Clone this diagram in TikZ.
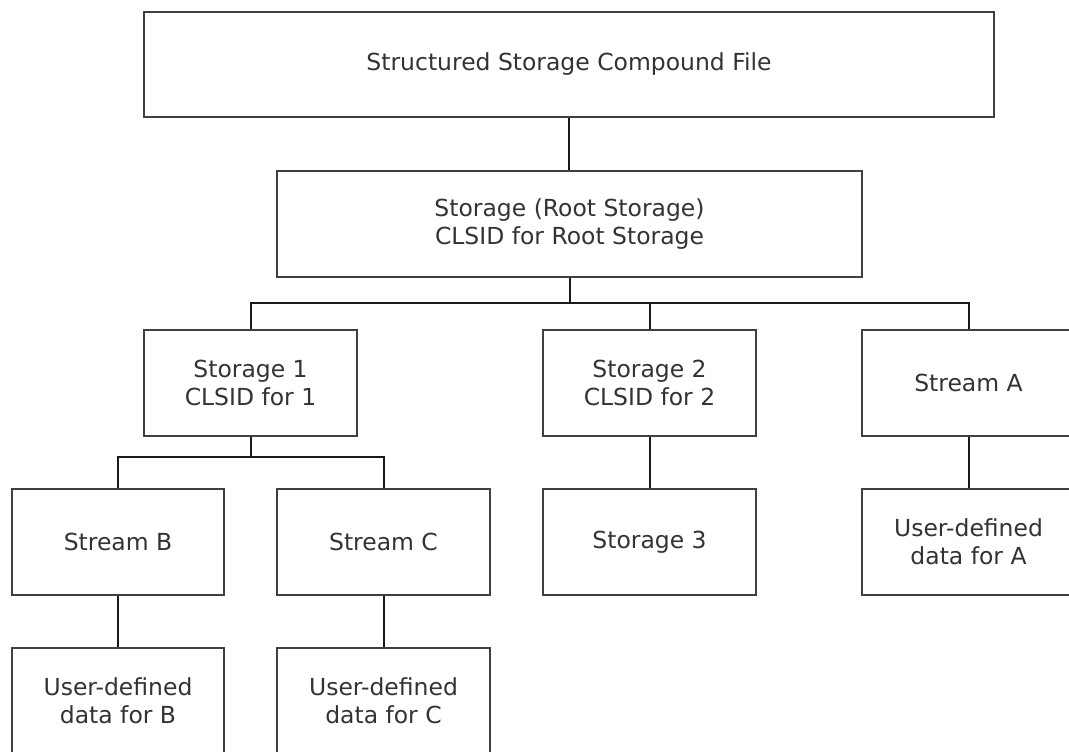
\documentclass[tikz,border=0pt]{standalone}
\usepackage{fontspec}
\setmainfont{DejaVu Sans}
\begin{document}
\begin{tikzpicture}[x=0.75pt,y=-0.75pt,
  box/.style={draw=black!75,line width=1.5pt,rectangle,minimum width=#1*0.75pt,minimum height=106*0.75pt,
    align=center,inner sep=0pt,text=black!80,font=\fontsize{17.6}{21}\selectfont},
  box/.default=213,
  conn/.style={draw=black!90,line width=1.5pt}]
\useasboundingbox (0,0) rectangle (1069,751);
\clip (0,0) rectangle (1069,751);
\fill[white] (0,0) rectangle (1069,751);
\node[box=850,minimum height=105*0.75pt] (top) at (569,64.5) {Structured Storage Compound File};
\node[box=585] (root) at (569.5,224) {Storage (Root Storage)\\CLSID for Root Storage};
\node[box] (s1) at (250.5,383) {Storage 1\\CLSID for 1};
\node[box] (s2) at (649.5,383) {Storage 2\\CLSID for 2};
\node[box] (sA) at (968.5,383) {Stream A};
\node[box=212] (sB) at (118,542) {Stream B};
\node[box] (sC) at (383.5,542) {Stream C};
\node[box] (s3) at (649.5,542) {Storage 3};
\node[box] (uA) at (968.5,542) {User-defined\\data for A};
\node[box=212] (uB) at (118,701) {User-defined\\data for B};
\node[box] (uC) at (383.5,701) {User-defined\\data for C};
\coordinate (busA) at (0,303);
\coordinate (busB) at (0,457);
\draw[conn] (top.south) -- (top.south |- root.north);
\draw[conn] (root.south) -- (root.south |- busA);
\draw[conn] (s1.north) -- (s1.north |- busA) -- (sA.north |- busA) -- (sA.north);
\draw[conn] (s2.north) -- (s2.north |- busA);
\draw[conn] (s1.south) -- (s1.south |- busB);
\draw[conn] (sB.north) -- (sB.north |- busB) -- (sC.north |- busB) -- (sC.north);
\draw[conn] (s2.south) -- (s3.north);
\draw[conn] (sA.south) -- (uA.north);
\draw[conn] (sB.south) -- (uB.north);
\draw[conn] (sC.south) -- (uC.north);
\end{tikzpicture}
\end{document}
